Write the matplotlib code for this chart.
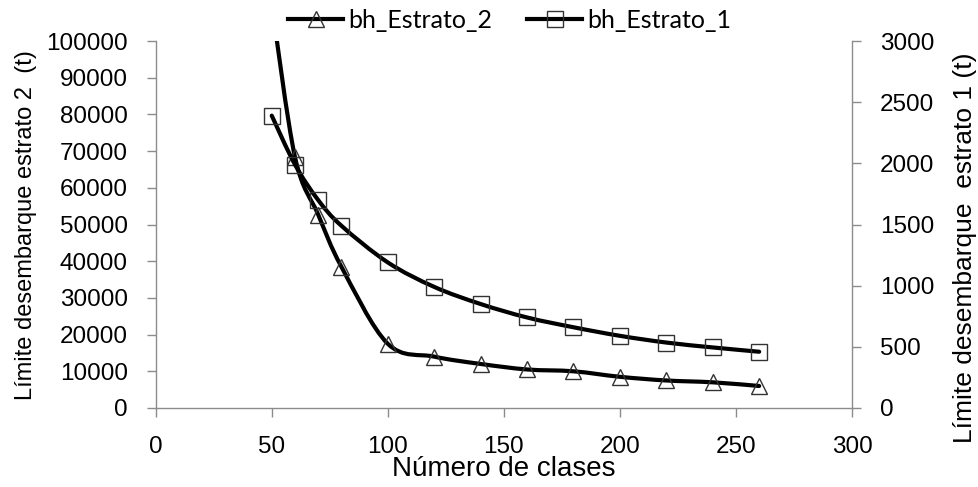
import numpy as np
import matplotlib
matplotlib.use("Agg")
import matplotlib.pyplot as plt
from matplotlib.path import Path
from matplotlib.patches import PathPatch
from matplotlib.lines import Line2D

plt.rcParams['font.family'] = ['Liberation Sans', 'DejaVu Sans']

# ---- data ----
clases = [50, 60, 70, 80, 100, 120, 140, 160, 180, 200, 220, 240, 260]
estrato_2 = [110000, 68400, 52700, 38500, 17500, 14000, 12000, 10500, 10000, 8500, 7500, 7000, 6000]
estrato_1 = [2390, 1990, 1700, 1490, 1190, 990, 850, 740, 660, 590, 535, 495, 460]
xticks = [0, 50, 100, 150, 200, 250, 300]
left_ticks = [0, 10000, 20000, 30000, 40000, 50000, 60000, 70000, 80000, 90000, 100000]
right_ticks = [0, 500, 1000, 1500, 2000, 2500, 3000]
label_2 = "bh_Estrato_2"
label_1 = "bh_Estrato_1"
xlabel = "Número de clases"
ylabel_left = "Límite desembarque estrato 2  (t)"
ylabel_right = "Límite desembarque  estrato 1 (t)"


def smooth_path(x, y):
    pts = np.column_stack([x, y]).astype(float)
    n = len(pts)
    verts = [pts[0]]
    codes = [Path.MOVETO]
    for i in range(n - 1):
        p0 = pts[i - 1] if i > 0 else pts[i]
        p1 = pts[i]
        p2 = pts[i + 1]
        p3 = pts[i + 2] if i + 2 < n else pts[i + 1]
        c1 = p1 + (p2 - p0) / 6.0
        c2 = p2 - (p3 - p1) / 6.0
        verts += [c1, c2, p2]
        codes += [Path.CURVE4] * 3
    return Path(verts, codes)


W, H = 979, 487
fig = plt.figure(figsize=(W / 100, H / 100), dpi=100)
ax = fig.add_axes([155.7 / W, 1 - 408 / H, (852 - 155.7) / W, (408 - 41) / H])
ax2 = ax.twinx()

gray = '#8c8c8c'
tick_fs = 17.5
lw = 3.0
ms = 11.5
mec = '#333333'

# Estrato 2 on left axis
ax.add_patch(PathPatch(smooth_path(clases, estrato_2), fill=False, lw=lw,
                       ec='black', capstyle='round', joinstyle='round', zorder=3))
ax.plot(clases, estrato_2, ls='none', marker='^', ms=ms, mfc='none', mec=mec,
        mew=1.0, zorder=4)
# Estrato 1 on right axis
ax2.add_patch(PathPatch(smooth_path(clases, estrato_1), fill=False, lw=lw,
                        ec='black', capstyle='round', joinstyle='round', zorder=3))
ax2.plot(clases, estrato_1, ls='none', marker='s', ms=ms, mfc='none', mec=mec,
         mew=1.0, zorder=4)

ax.set_xlim(0, 300)
ax.set_ylim(0, 100000)
ax2.set_ylim(0, 3000)
ax.set_xticks(xticks)
ax.set_yticks(left_ticks)
ax2.set_yticks(right_ticks)
ax.set_xticklabels([str(v) for v in xticks])
ax.set_yticklabels([str(v) for v in left_ticks])
ax2.set_yticklabels([str(v) for v in right_ticks])

for a in (ax, ax2):
    for s in a.spines.values():
        s.set_color(gray)
        s.set_linewidth(1.0)
    a.spines['top'].set_visible(False)
    a.tick_params(axis='both', which='major', direction='out', length=6.5,
                  width=1.0, color=gray, labelsize=tick_fs, pad=13.5,
                  labelcolor='black')
ax.spines['right'].set_visible(False)
ax2.spines['left'].set_visible(False)
ax2.spines['bottom'].set_visible(False)

fig.text(504 / W, 1 - 469 / H, xlabel, fontsize=20, ha='center', va='center')
fig.text(26 / W, 1 - 225 / H, ylabel_left, fontsize=17, rotation=90,
         ha='center', va='center')
fig.text(965 / W, 1 - 248 / H, ylabel_right, fontsize=19, rotation=90,
         ha='center', va='center')

h2 = Line2D([], [], color='black', lw=lw, marker='^', ms=ms, mfc='none', mec=mec, mew=1.0)
h1 = Line2D([], [], color='black', lw=lw, marker='s', ms=ms, mfc='none', mec=mec, mew=1.0)
fig.legend([h2, h1], [label_2, label_1], loc='center', ncol=2,
           bbox_to_anchor=(510 / W, 1 - 20 / H), frameon=False,
           prop={'family': 'Lato', 'size': 18}, handlelength=2.2,
           handletextpad=0.2, columnspacing=1.4, borderpad=0, borderaxespad=0)

fig.savefig('out.png', dpi=100)
